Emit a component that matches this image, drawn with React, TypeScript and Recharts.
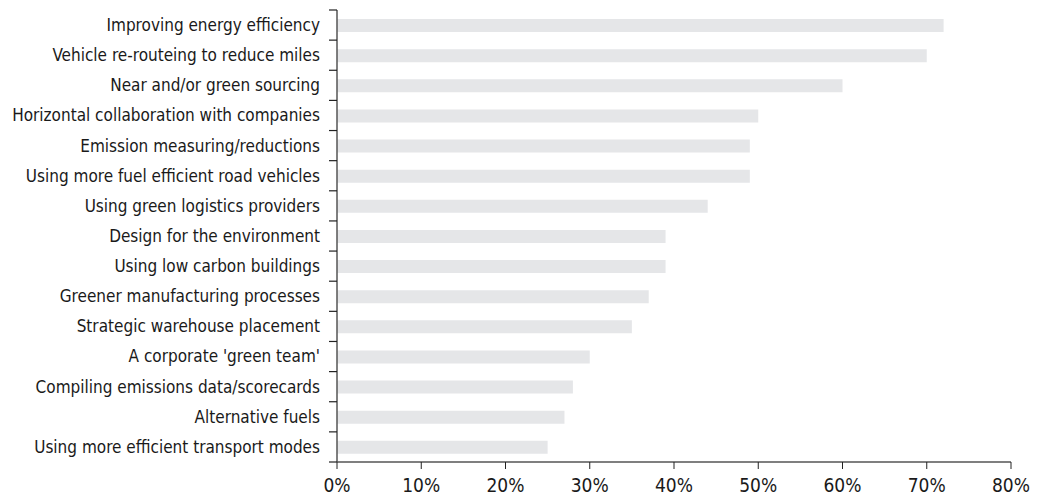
import { Bar, BarChart, XAxis, YAxis } from "recharts";

const categories = [
  "Improving energy efficiency",
  "Vehicle re-routeing to reduce miles",
  "Near and/or green sourcing",
  "Horizontal collaboration with companies",
  "Emission measuring/reductions",
  "Using more fuel efficient road vehicles",
  "Using green logistics providers",
  "Design for the environment",
  "Using low carbon buildings",
  "Greener manufacturing processes",
  "Strategic warehouse placement",
  "A corporate 'green team'",
  "Compiling emissions data/scorecards",
  "Alternative fuels",
  "Using more efficient transport modes",
];

const shares = [72, 70, 60, 50, 49, 49, 44, 39, 39, 37, 35, 30, 28, 27, 25];

const xTicks = [0, 10, 20, 30, 40, 50, 60, 70, 80];

const data = categories.map((name, i) => ({ name, value: shares[i] }));

const FONT = "'DejaVu Sans Condensed', 'Liberation Sans Narrow', sans-serif";
const TOP = 10;
const PLOT_BOTTOM = 462;
const BAND = (PLOT_BOTTOM - TOP) / categories.length;

// category label plus a tick at the band boundaries instead of the centre
function CategoryTick(props: any) {
  const { x, y, payload, index } = props;
  const axisX = x + 8;
  return (
    <g>
      <line x1={axisX - 8} x2={axisX} y1={y - BAND / 2} y2={y - BAND / 2} stroke="#222" strokeWidth={1.2} />
      {index === categories.length - 1 && (
        <line x1={axisX - 8} x2={axisX} y1={y + BAND / 2} y2={y + BAND / 2} stroke="#222" strokeWidth={1.2} />
      )}
      <text x={x - 9} y={y} dy="0.35em" textAnchor="end" fill="#1a1a1a" fontSize={17} fontFamily={FONT}>
        {payload.value}
      </text>
    </g>
  );
}

export default function App() {
  return (
    <div style={{ position: "absolute", left: 0, top: 0, background: "#fff" }}>
      <BarChart
        width={1044}
        height={498}
        data={data}
        layout="vertical"
        margin={{ top: TOP, right: 33, bottom: 0, left: 0 }}
        barCategoryGap={0}
      >
        <XAxis
          type="number"
          domain={[0, 80]}
          ticks={xTicks}
          tickFormatter={(v: number) => `${v}%`}
          height={36}
          tickSize={7}
          tickMargin={10}
          axisLine={{ stroke: "#555", strokeWidth: 1.5 }}
          tickLine={{ stroke: "#222" }}
          tick={{ fill: "#1a1a1a", fontSize: 19, fontFamily: FONT }}
          interval={0}
        />
        <YAxis
          type="category"
          dataKey="name"
          width={337}
          interval={0}
          tickLine={false}
          axisLine={{ stroke: "#555", strokeWidth: 1.5 }}
          tick={<CategoryTick />}
        />
        <Bar dataKey="value" fill="#e5e6e8" barSize={13} isAnimationActive={false} />
      </BarChart>
    </div>
  );
}
